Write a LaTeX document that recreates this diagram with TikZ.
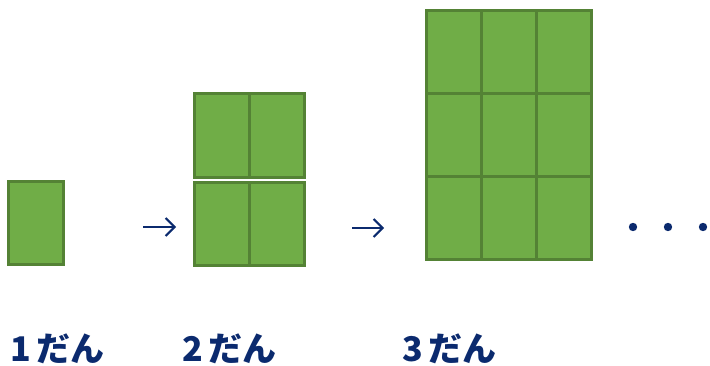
\documentclass[tikz,border=0pt]{standalone}
\usepackage{fontspec}
\usepackage{tikz}
\usetikzlibrary{arrows.meta, positioning}
\newfontfamily\jpfont{Noto Sans CJK JP}
\definecolor{cgreen}{HTML}{70AD47}
\definecolor{dgreen}{HTML}{548235}
\definecolor{cnavy}{HTML}{0B2A6E}

\begin{document}
\begin{tikzpicture}[x=1pt, y=-1pt,
    cell/.style={fill=cgreen, draw=dgreen, line width=3pt},
    stagelabel/.style={anchor=west, inner sep=0pt, text=cnavy, font=\jpfont\bfseries\fontsize{34}{38}\selectfont},
    stagearrow/.style={draw=cnavy, line width=2pt, -{Straight Barb[length=9pt, width=18pt]}}]
  \useasboundingbox (0,0) rectangle (710,366);
  % 1 dan
  \draw[cell] (8,182) rectangle (63,265);
  % 2 dan
  \foreach \c in {0,1}{
    \draw[cell] (194+\c*55,94) rectangle ++(55,83.5);
    \draw[cell] (194+\c*55,182.5) rectangle ++(55,83.5);
  }
  % 3 dan
  \foreach \r in {0,1,2}{
    \foreach \c in {0,1,2}{
      \draw[cell] (426+\c*55,11+\r*83) rectangle ++(55,83);
    }
  }
  % arrows
  \coordinate (a1s) at (143,227);
  \coordinate (a1e) at (176,227);
  \coordinate (a2s) at (352,228);
  \coordinate (a2e) at (384,228);
  \draw[stagearrow] (a1s) -- (a1e);
  \draw[stagearrow] (a2s) -- (a2e);
  % dots
  \foreach \x in {633,668,703}
    \fill[cnavy] (\x,227) circle (4.2);
  % labels
  \node[stagelabel] (lab1) at (10,349) {1\hspace{6pt}だん};
  \node[stagelabel] (lab2) at (182,349) {2\hspace{6pt}だん};
  \node[stagelabel] (lab3) at (402,349) {3\hspace{6pt}だん};
\end{tikzpicture}
\end{document}
